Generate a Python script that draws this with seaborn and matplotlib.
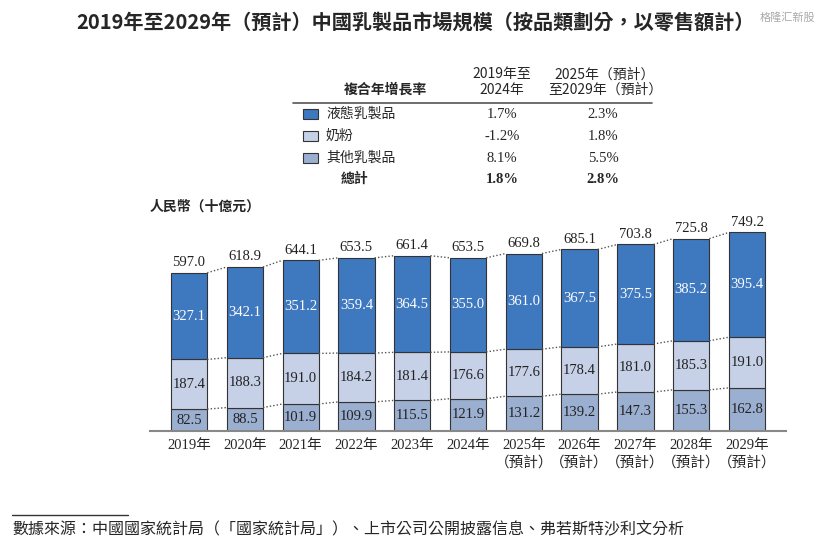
import numpy as np
import pandas as pd
import matplotlib
matplotlib.use("Agg")
import matplotlib.pyplot as plt
import seaborn as sns

years = ["2019年", "2020年", "2021年", "2022年", "2023年", "2024年",
         "2025年\n（預計）", "2026年\n（預計）", "2027年\n（預計）", "2028年\n（預計）", "2029年\n（預計）"]
liquid = [327.1, 342.1, 351.2, 359.4, 364.5, 355.0, 361.0, 367.5, 375.5, 385.2, 395.4]
powder = [187.4, 188.3, 191.0, 184.2, 181.4, 176.6, 177.6, 178.4, 181.0, 185.3, 191.0]
other = [82.5, 88.5, 101.9, 109.9, 115.5, 121.9, 131.2, 139.2, 147.3, 155.3, 162.8]
totals = [597.0, 618.9, 644.1, 653.5, 661.4, 653.5, 669.8, 685.1, 703.8, 725.8, 749.2]

cats = ["液態乳製品", "奶粉", "其他乳製品"]
cagr_a = ["1.7%", "-1.2%", "8.1%"]
cagr_b = ["2.3%", "1.8%", "5.5%"]
total_a, total_b = "1.8%", "2.8%"

c_liq, c_pow, c_oth = "#3e78bf", "#c6d1e7", "#9bafd1"
SER = ["Liberation Serif", "Noto Sans CJK TC"]
CJK = ["Noto Sans CJK TC", "DejaVu Sans"]

sns.set_style("white")
plt.rcParams["font.family"] = SER

fig = plt.figure(figsize=(8.3, 5.45), dpi=100)
ax = fig.add_axes([150 / 830, 114 / 545, 636 / 830, 212 / 545])

df = pd.DataFrame({"year": years, "other": other, "powder": powder, "liquid": liquid})
x = np.arange(len(years))
w = 0.65
sns.barplot(data=df, x="year", y="other", color=c_oth, width=w, edgecolor="#333333", linewidth=0.8, ax=ax, saturation=1)
ax.bar(x, powder, bottom=other, width=w, color=c_pow, edgecolor="#333333", linewidth=0.8)
ax.bar(x, liquid, bottom=np.array(other) + np.array(powder), width=w, color=c_liq, edgecolor="#333333", linewidth=0.8)

b1 = np.array(other)
b2 = b1 + np.array(powder)
b3 = b2 + np.array(liquid)
for lev in (b1, b2, b3):
    for i in range(len(x) - 1):
        ax.plot([x[i] + w / 2, x[i + 1] - w / 2], [lev[i], lev[i + 1]], ls=(0, (1, 1.5)), color="#555555", lw=1)

for i in range(len(x)):
    ax.text(x[i], b1[i] / 2, f"{other[i]:.1f}", ha="center", va="center", fontsize=10.5, color="#222222")
    ax.text(x[i], b1[i] + powder[i] / 2, f"{powder[i]:.1f}", ha="center", va="center", fontsize=10.5, color="#222222")
    ax.text(x[i], b2[i] + liquid[i] / 2, f"{liquid[i]:.1f}", ha="center", va="center", fontsize=10.5, color="white")
    ax.text(x[i], totals[i] + 14, f"{totals[i]:.1f}", ha="center", va="bottom", fontsize=10.5, color="#222222")

ax.set_xlim(-0.7, 10.7)
ax.set_ylim(0, 800)
ax.set_yticks([])
ax.set_xlabel("")
ax.set_ylabel("")
ax.set_xticks(x)
ax.set_xticklabels(years, fontsize=10.5, family=SER, linespacing=1.3)
ax.tick_params(axis="x", length=0, pad=6)
for s in ["top", "right", "left"]:
    ax.spines[s].set_visible(False)
ax.spines["bottom"].set_color("#888888")
ax.spines["bottom"].set_linewidth(1.5)

fig.text(0.5, 1 - 22 / 545, "2019年至2029年（預計）中國乳製品市場規模（按品類劃分，以零售額計）",
         ha="center", va="center", fontsize=14.5, fontweight="bold", family=CJK)
fig.text(150 / 830, 1 - 207 / 545, "人民幣（十億元）", ha="left", va="center", fontsize=10, fontweight="bold", family=CJK)
fig.text(815 / 830, 1 - 18 / 545, "格隆汇新股", ha="right", va="center", fontsize=8, color="#aaaaaa", family=CJK)

# growth rate table
fig.text(385 / 830, 1 - 90 / 545, "複合年增長率", ha="center", va="center", fontsize=10, fontweight="bold", family=CJK)
fig.text(502 / 830, 1 - 82 / 545, "2019年至\n2024年", ha="center", va="center", fontsize=10, family=CJK, linespacing=1.1)
fig.text(605 / 830, 1 - 82 / 545, "2025年（預計）\n至2029年（預計）", ha="center", va="center", fontsize=10, family=CJK, linespacing=1.1)
fig.add_artist(plt.Line2D([293 / 830, 652 / 830], [1 - 103 / 545] * 2, color="#555555", lw=1.2))
ys = [114, 136, 158]
for cat, col, a, b, yy in zip(cats, [c_liq, c_pow, c_oth], cagr_a, cagr_b, ys):
    fig.add_artist(plt.Rectangle((303 / 830, 1 - (yy + 5) / 545), 15 / 830, 10 / 545, facecolor=col, edgecolor="#333333", lw=0.8))
    fig.text(326 / 830, 1 - yy / 545, cat, ha="left", va="center", fontsize=10, family=CJK)
    fig.text(502 / 830, 1 - yy / 545, a, ha="center", va="center", fontsize=10.5)
    fig.text(603 / 830, 1 - yy / 545, b, ha="center", va="center", fontsize=10.5)
fig.text(355 / 830, 1 - 179 / 545, "總計", ha="center", va="center", fontsize=10, fontweight="bold", family=CJK)
fig.text(502 / 830, 1 - 179 / 545, total_a, ha="center", va="center", fontsize=10.5, fontweight="bold")
fig.text(603 / 830, 1 - 179 / 545, total_b, ha="center", va="center", fontsize=10.5, fontweight="bold")

fig.add_artist(plt.Line2D([12 / 830, 128 / 830], [1 - 515 / 545] * 2, color="#333333", lw=1))
fig.text(12 / 830, 1 - 530 / 545, "數據來源：中國國家統計局（「國家統計局」）、上市公司公開披露信息、弗若斯特沙利文分析",
         ha="left", va="center", fontsize=11.5, style="italic", family=CJK)

fig.savefig("out.png", dpi=100)
